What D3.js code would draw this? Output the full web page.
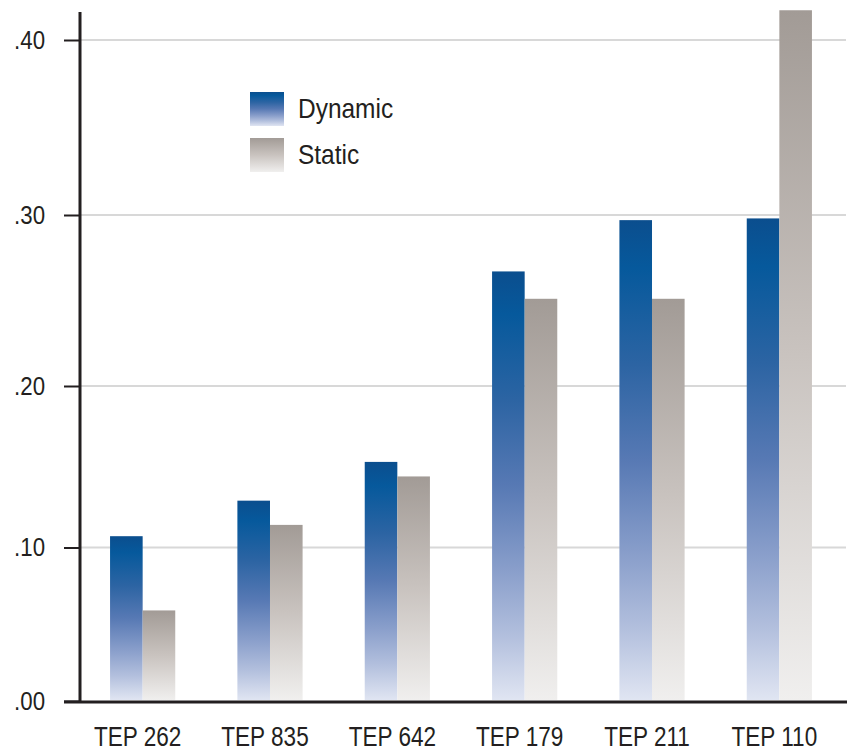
<!DOCTYPE html>
<html>
<head>
<meta charset="utf-8">
<script src="https://cdn.jsdelivr.net/npm/d3@7"></script>
<style>
  html, body { margin: 0; padding: 0; background: #fff; }
  svg { display: block; }
  text { font-family: "Liberation Sans", Arial, sans-serif; fill: #231f20; }
</style>
</head>
<body>
<svg id="chart" width="855" height="752"></svg>
<script>
// Categories and measured values
const categories = ["TEP 262", "TEP 835", "TEP 642", "TEP 179", "TEP 211", "TEP 110"];
const seriesNames = ["Dynamic", "Static"];
const dynamicValues = [0.107, 0.129, 0.153, 0.267, 0.297, 0.298];
const staticValues  = [0.059, 0.114, 0.144, 0.251, 0.251, 0.417];
const tickValues = [0, 0.1, 0.2, 0.3, 0.4];
const tickLabels = [".00", ".10", ".20", ".30", ".40"];

const svg = d3.select("#chart");
const axisX = 80;

// Value axis: piecewise-linear between the labelled gridlines
const y = d3.scaleLinear()
  .domain(tickValues)
  .range([701, 547.5, 386, 215, 40]);

const x0 = d3.scaleBand()
  .domain(categories)
  .range([80, 842])
  .paddingInner(0.488)
  .paddingOuter(0.236);

const x1 = d3.scaleBand()
  .domain(seriesNames)
  .range([0, x0.bandwidth()]);

// Vertical gradients for each series (per bar)
const defs = svg.append("defs");
const gradStops = {
  Dynamic: [[0, "#0b4e8e"], [0.1, "#06599c"], [0.3, "#2c64a3"], [0.5, "#5779b4"], [0.7, "#8a9fcb"], [0.85, "#b2bfdd"], [1, "#e0e5f2"]],
  Static:  [[0, "#a29b96"], [0.5, "#c9c3bf"], [1, "#f0efee"]]
};
seriesNames.forEach(name => {
  const g = defs.append("linearGradient")
    .attr("id", "grad-" + name)
    .attr("x1", 0).attr("y1", 0).attr("x2", 0).attr("y2", 1);
  gradStops[name].forEach(([o, c]) => g.append("stop").attr("offset", o).attr("stop-color", c));
});

// Gridlines
svg.append("g")
  .selectAll("line")
  .data(tickValues.slice(1))
  .join("line")
  .attr("x1", axisX).attr("x2", 846)
  .attr("y1", d => y(d)).attr("y2", d => y(d))
  .attr("stroke", "#d8d8d8").attr("stroke-width", 2);

// Bars
const rows = categories.map((c, i) => ({ cat: c, values: [
  { key: "Dynamic", value: dynamicValues[i] },
  { key: "Static", value: staticValues[i] }
]}));

svg.append("g")
  .selectAll("g")
  .data(rows)
  .join("g")
  .attr("transform", d => `translate(${x0(d.cat)},0)`)
  .selectAll("rect")
  .data(d => d.values)
  .join("rect")
  .attr("x", d => x1(d.key))
  .attr("width", x1.bandwidth())
  .attr("y", d => y(d.value))
  .attr("height", d => y(0) - 1 - y(d.value))
  .attr("fill", d => `url(#grad-${d.key})`);

// Y axis
const ySqueeze = 0.84;
const yAxis = d3.axisLeft(y)
  .tickValues(tickValues)
  .tickFormat((d, i) => tickLabels[i])
  .tickSize(16)
  .tickPadding(19);

const yg = svg.append("g")
  .attr("transform", `translate(${axisX},0)`)
  .call(yAxis);
yg.select(".domain").remove();
yg.selectAll(".tick line").attr("stroke", "#231f20").attr("stroke-width", 2);
yg.selectAll(".tick text")
  .attr("font-size", 26.5)
  .attr("x", -35 / ySqueeze)
  .attr("dy", "0.32em")
  .attr("transform", `scale(${ySqueeze},1)`)
  .attr("fill", "#231f20")
  .style("font-family", '"Liberation Sans", Arial, sans-serif');

svg.append("line")
  .attr("x1", axisX).attr("x2", axisX)
  .attr("y1", 12).attr("y2", 703)
  .attr("stroke", "#231f20").attr("stroke-width", 3);

// X axis baseline and labels
svg.append("line")
  .attr("x1", 64).attr("x2", 847)
  .attr("y1", 702).attr("y2", 702)
  .attr("stroke", "#231f20").attr("stroke-width", 3);

const xSqueeze = 0.795;
const xAxis = d3.axisBottom(x0).tickSize(0).tickPadding(0);
const xg = svg.append("g")
  .attr("transform", "translate(-5,746)")
  .call(xAxis);
xg.select(".domain").remove();
xg.selectAll(".tick text")
  .attr("font-size", 28.4)
  .attr("y", 0)
  .attr("dy", 0)
  .attr("transform", `scale(${xSqueeze},1)`)
  .attr("fill", "#231f20")
  .style("font-family", '"Liberation Sans", Arial, sans-serif');

// Legend
const legend = svg.append("g").attr("transform", "translate(250,92)");
const li = legend.selectAll("g")
  .data(seriesNames)
  .join("g")
  .attr("transform", (d, i) => `translate(0,${i * 46})`);
li.append("rect")
  .attr("width", 34).attr("height", 34)
  .attr("fill", d => `url(#grad-${d})`);
li.append("text")
  .attr("transform", "translate(48,26) scale(0.89,1)")
  .attr("font-size", 27.5)
  .text(d => d);
</script>
</body>
</html>
